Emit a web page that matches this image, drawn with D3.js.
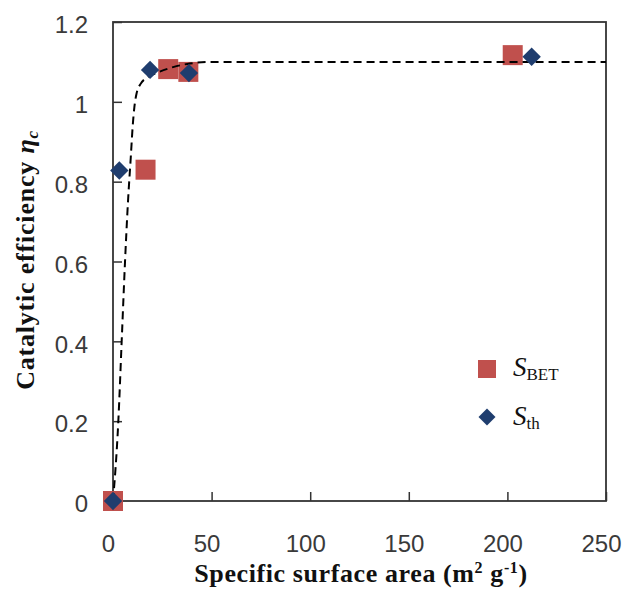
<!DOCTYPE html>
<html>
<head>
<meta charset="utf-8">
<script src="https://cdn.jsdelivr.net/npm/d3@7"></script>
<style>
  body { margin: 0; background: #fff; }
  svg { display: block; }
</style>
</head>
<body>
<svg width="632" height="590"></svg>
<script>
// data
const betX = [0, 16.5, 28, 38.2, 202.7];
const betY = [0, 0.83, 1.082, 1.075, 1.117];
const thX = [0, 3.2, 18.8, 38.5, 212.3];
const thY = [0, 0.828, 1.08, 1.072, 1.113];
const fitX = [0, 2.7, 4.4, 6.1, 7.6, 9, 10, 10.8, 12, 14, 17, 22, 30.5, 39, 50, 250];
const fitY = [0, 0.2, 0.4, 0.6, 0.75, 0.86, 0.94, 0.985, 1.022, 1.045, 1.06, 1.072, 1.087, 1.096, 1.1, 1.1];
const xTicks = [0, 50, 100, 150, 200, 250];
const yTicks = [0, 0.2, 0.4, 0.6, 0.8, 1, 1.2];

const svg = d3.select("svg");
const margin = { top: 22, right: 26, bottom: 89, left: 113 };
const width = +svg.attr("width") - margin.left - margin.right;
const height = +svg.attr("height") - margin.top - margin.bottom;
const g = svg.append("g").attr("transform", `translate(${margin.left},${margin.top})`);

const x = d3.scaleLinear().domain([0, 250]).range([0, width]);
const y = d3.scaleLinear().domain([0, 1.2]).range([height, 0]);

const labelFont = "'Liberation Sans', Arial, sans-serif";
const titleFont = "'Liberation Serif', 'Times New Roman', serif";

// axes (ticks point inward)
const gx = g.append("g")
  .attr("transform", `translate(0,${height})`)
  .call(d3.axisBottom(x).tickValues(xTicks).tickSize(-9).tickPadding(34));
const gy = g.append("g")
  .call(d3.axisLeft(y).tickValues(yTicks).tickSize(-9).tickPadding(25).tickFormat(d3.format("~g")));

[gx, gy].forEach((a) => {
  a.select(".domain").remove();
  a.selectAll(".tick line").attr("stroke", "#333").attr("stroke-width", 1.5);
  a.selectAll(".tick text")
    .attr("fill", "#3a3a3a")
    .style("font-family", labelFont)
    .style("font-size", "24px");
});
gx.selectAll(".tick text").attr("dx", -5);
gy.selectAll(".tick text").attr("dy", "0.45em");

// frame
g.append("rect")
  .attr("width", width)
  .attr("height", height)
  .attr("fill", "none")
  .attr("stroke", "#333")
  .attr("stroke-width", 1.8);

// S_BET squares
const sq = 20;
g.selectAll(".bet")
  .data(betX.map((v, i) => [v, betY[i]]))
  .enter()
  .append("rect")
  .attr("class", "bet")
  .attr("x", (d) => x(d[0]) - sq / 2)
  .attr("y", (d) => y(d[1]) - sq / 2)
  .attr("width", sq)
  .attr("height", sq)
  .attr("fill", "#c0504d");

// fitted dashed curve
const line = d3.line()
  .x((d) => x(d[0]))
  .y((d) => y(d[1]))
  .curve(d3.curveMonotoneX);

g.append("path")
  .datum(fitX.map((v, i) => [v, fitY[i]]))
  .attr("fill", "none")
  .attr("stroke", "#000")
  .attr("stroke-width", 2)
  .attr("stroke-dasharray", "8,5")
  .attr("d", line);

// S_th diamonds
const dm = 13;
g.selectAll(".th")
  .data(thX.map((v, i) => [v, thY[i]]))
  .enter()
  .append("rect")
  .attr("class", "th")
  .attr("x", -dm / 2)
  .attr("y", -dm / 2)
  .attr("width", dm)
  .attr("height", dm)
  .attr("transform", (d) => `translate(${x(d[0])},${y(d[1])}) rotate(45)`)
  .attr("fill", "#1f3d6e");

// legend
const leg = svg.append("g");
leg.append("rect")
  .attr("x", 487 - 9).attr("y", 369 - 9)
  .attr("width", 18).attr("height", 18)
  .attr("fill", "#c0504d");
leg.append("rect")
  .attr("x", -6).attr("y", -6)
  .attr("width", 12).attr("height", 12)
  .attr("transform", "translate(487,417) rotate(45)")
  .attr("fill", "#1f3d6e");

[["BET", 376], ["th", 425]].forEach(([sub, by]) => {
  const t = leg.append("text")
    .attr("x", 513)
    .attr("y", by)
    .style("font-family", titleFont)
    .attr("fill", "#111");
  t.append("tspan").style("font-style", "italic").style("font-size", "27px").text("S");
  t.append("tspan").style("font-size", "17px").attr("dy", 4).text(sub);
});

// axis titles
const xt = svg.append("text")
  .attr("x", 361)
  .attr("y", 582)
  .attr("text-anchor", "middle")
  .style("font-family", titleFont)
  .style("font-weight", "bold")
  .style("font-size", "26px")
  .style("letter-spacing", "0.6px")
  .attr("fill", "#111");
xt.append("tspan").text("Specific surface area (m");
xt.append("tspan").attr("dy", -9).style("font-size", "16px").text("2");
xt.append("tspan").attr("dy", 9).text(" g");
xt.append("tspan").attr("dy", -9).style("font-size", "16px").text("-1");
xt.append("tspan").attr("dy", 9).text(")");

const yt = svg.append("text")
  .attr("transform", "translate(34,260) rotate(-90)")
  .attr("text-anchor", "middle")
  .style("font-family", titleFont)
  .style("font-weight", "bold")
  .style("font-size", "26px")
  .style("letter-spacing", "0.8px")
  .attr("fill", "#111");
yt.append("tspan").text("Catalytic efficiency ");
yt.append("tspan").style("font-style", "italic").text("η");
yt.append("tspan").attr("dy", 4).style("font-style", "italic").style("font-size", "17px").text("c");
</script>
</body>
</html>
